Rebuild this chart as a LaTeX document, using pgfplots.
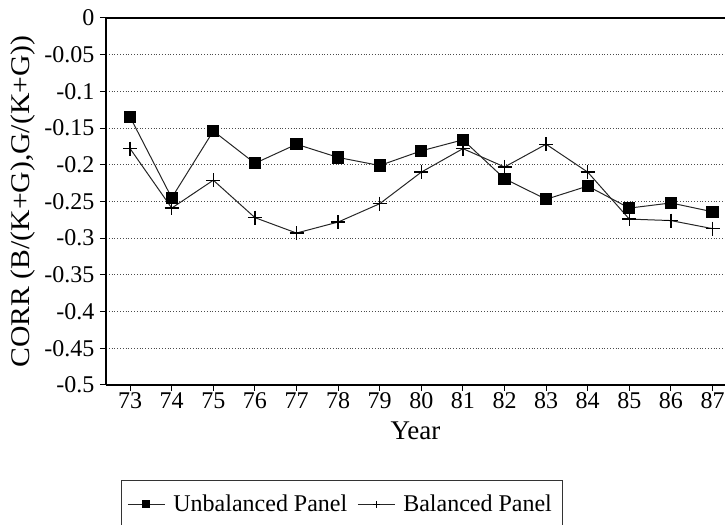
\documentclass[border=0pt]{standalone}
\usepackage{pgfplots}
\pgfplotsset{compat=1.18}
\usepackage{fontspec}
\setmainfont{Liberation Serif}
\newfontfamily\widelabel{Liberation Serif}[FakeStretch=1.1]
\begin{document}
\fontsize{11}{13}\selectfont
\begin{tikzpicture}
\begin{axis}[
  scale only axis,
  width=309.5pt, height=183.5pt,
  xmin=-0.58, xmax=14.3,
  ymin=-0.5, ymax=0,
  ytick={-0.5,-0.45,...,0.01},
  yticklabels={-0.5,-0.45,-0.4,-0.35,-0.3,-0.25,-0.2,-0.15,-0.1,-0.05,0},
  xtick={0,...,14},
  xticklabels={73,74,75,76,77,78,79,80,81,82,83,84,85,86,87},
  /pgf/number format/assume math mode=true,
  axis x line*=bottom, axis y line*=left,
  tick align=outside,
  major tick length=3pt,
  ymajorgrids,
  grid style={black!70, densely dotted, line width=0.4pt},
  axis line style={line width=0.6pt},
  tick style={black, line width=0.5pt},
  tick label style={font=\fontsize{12}{14}\selectfont},
  xticklabel style={yshift=3pt},
  yticklabel style={xshift=1pt},
  xlabel={Year},
  ylabel={CORR (B/(K+G),G/(K+G))},
  xlabel style={font=\fontsize{13.5}{15}\selectfont, yshift=1pt},
  ylabel style={font=\fontsize{13.5}{15}\widelabel, yshift=-3pt},
  legend columns=2,
  legend style={at={(rel axis cs:0,0)}, anchor=north west, xshift=7.5pt, yshift=-47.5pt,
    draw=black!80, line width=0.4pt, font=\fontsize{12}{14}\selectfont,
    inner xsep=3pt, inner ysep=5pt,
    /tikz/every odd column/.append style={column sep=2pt},
    /tikz/every even column/.append style={column sep=3pt},
    text depth=16pt},
  legend image code/.code={\draw[#1] (0cm,0cm) -- (0.65cm,0cm); \path[#1, only marks, mark size=1.7pt] plot coordinates {(0.325cm,0cm)};},
]
\coordinate (ll) at (rel axis cs:0,0);
\coordinate (ur) at (rel axis cs:1,1);
\draw[black, line width=0.6pt] (rel axis cs:0,1) -- (rel axis cs:1,1);
\addplot[black!85, line width=0.5pt, mark=square*, mark size=2.8pt, mark options={solid, black}] coordinates {
(0,-0.135) (1,-0.245) (2,-0.154) (3,-0.198) (4,-0.172) (5,-0.190) (6,-0.201) (7,-0.181)
(8,-0.166) (9,-0.219) (10,-0.247) (11,-0.229) (12,-0.259) (13,-0.252) (14,-0.264)};
\addlegendentry{Unbalanced Panel}
\addplot[black!85, line width=0.5pt, mark=+, mark size=3.5pt, mark options={line width=0.7pt, black}] coordinates {
(0,-0.178) (1,-0.259) (2,-0.221) (3,-0.272) (4,-0.293) (5,-0.278) (6,-0.253) (7,-0.210)
(8,-0.178) (9,-0.203) (10,-0.172) (11,-0.210) (12,-0.274) (13,-0.276) (14,-0.287)};
\addlegendentry{Balanced Panel}
\end{axis}
\pgfresetboundingbox
\path ([shift={(-53pt,-70pt)}]ll) rectangle ([shift={(0pt,9pt)}]ur);
\end{tikzpicture}
\end{document}
